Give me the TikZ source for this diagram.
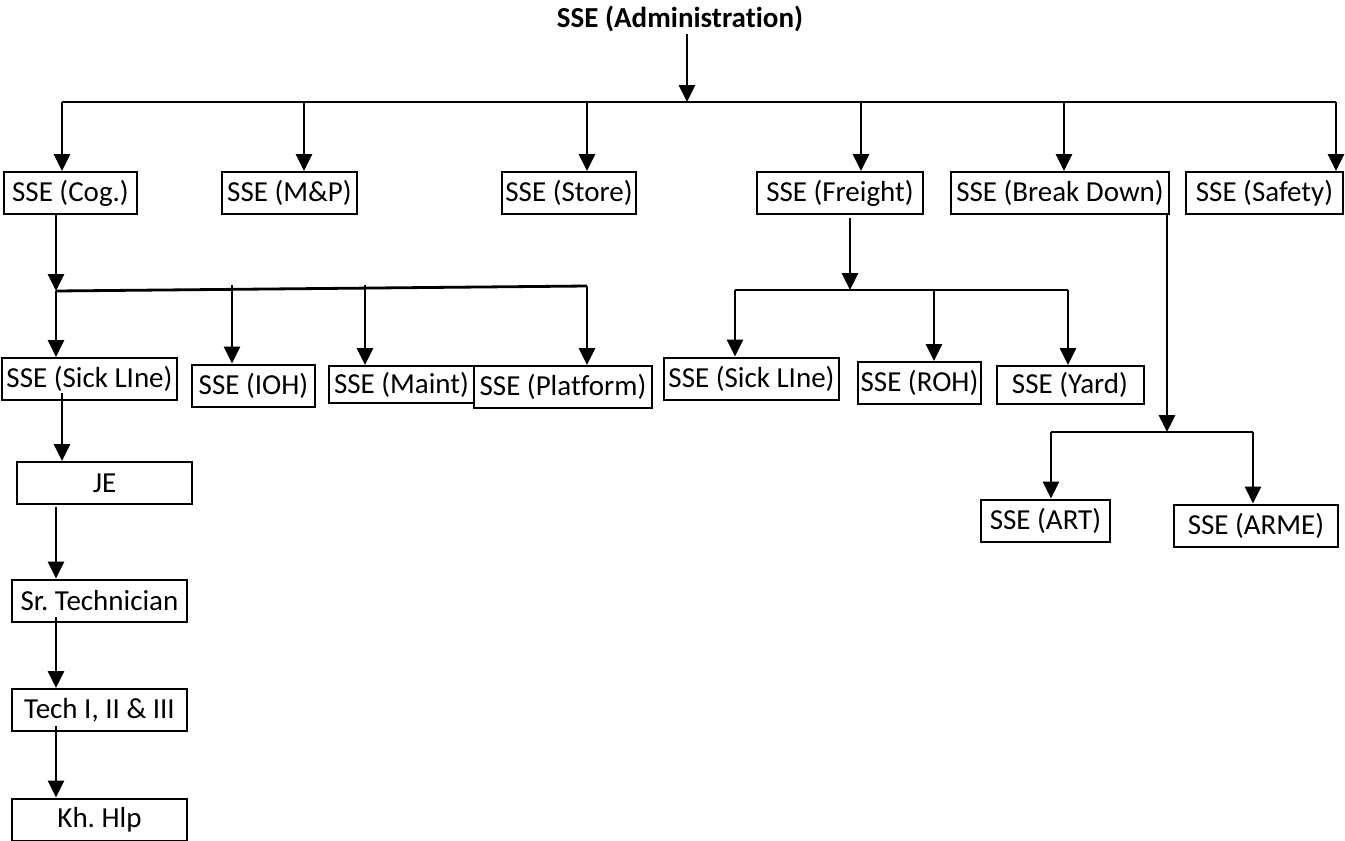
\documentclass[tikz,border=0pt]{standalone}
\usepackage{fontspec}
\setmainfont{Carlito}[Ligatures=NoCommon]
\usetikzlibrary{arrows.meta}

\tikzset{
  post/.style={draw, line width=1pt, inner sep=0pt, minimum height=21pt,
    minimum width=#1*0.5pt, font=\fontsize{14.5}{16}\selectfont},
  arr/.style={-{Triangle[width=8pt,length=8.5pt]}, line width=1.4pt},
  bus/.style={line width=1.4pt}
}

\begin{document}
\frenchspacing
\begin{tikzpicture}[x=0.5pt, y=-0.5pt]
\useasboundingbox (0,0) rectangle (1345,841);

\node[font=\fontsize{14.5}{16}\selectfont\bfseries, inner sep=1pt] (admin) at (680,19) {SSE (Administration)};

\node[post=133] (cog) at (70.5,193) {SSE (Cog.)};
\node[post=135] (mp) at (289.5,193) {SSE (M\&P)};
\node[post=134] (store) at (569,193) {SSE (Store)};
\node[post=166] (freight) at (840,193) {SSE (Freight)};
\node[post=218] (brk) at (1060,193) {SSE (Break Down)};
\node[post=157] (safety) at (1264.5,193) {SSE (Safety)};

\node[post=175] (sickA) at (89.5,379) {SSE (Sick LIne)};
\node[post=123] (ioh) at (253.5,385.5) {SSE (IOH)};
\node[post=145, minimum height=18.5pt] (maint) at (401.5,384.5) {SSE (Maint)};
\node[post=178] (platform) at (563,387) {SSE (Platform)};

\node[post=175] (je) at (104.5,483) {JE};
\node[post=175] (srtech) at (99.5,600.5) {Sr. Technician};
\node[post=175] (tech) at (99.5,710) {Tech I, II \& III};
\node[post=175] (khhlp) at (99.5,819.5) {Kh. Hlp};

\node[post=175] (sickB) at (751.5,378.5) {SSE (Sick LIne)};
\node[post=123] (roh) at (919.5,383) {SSE (ROH)};
\node[post=147, minimum height=19pt] (yard) at (1070,385) {SSE (Yard)};

\node[post=129] (art) at (1045.5,520.5) {SSE (ART)};
\node[post=164] (arme) at (1256,525.5) {SSE (ARME)};

% top level
\coordinate (hub) at (687,102);
\coordinate (t1) at (62,102);
\coordinate (t2) at (304,102);
\coordinate (t3) at (587,102);
\coordinate (t4) at (861,102);
\coordinate (t5) at (1064,102);
\coordinate (t6) at (1336,102);
\draw[arr] (admin.south -| hub) -- (hub);
\draw[bus] (t1) -- (t6);
\draw[arr] (t1) -- (t1 |- cog.north);
\draw[arr] (t2) -- (t2 |- mp.north);
\draw[arr] (t3) -- (t3 |- store.north);
\draw[arr] (t4) -- (t4 |- freight.north);
\draw[arr] (t5) -- (t5 |- brk.north);
\draw[arr] (t6) -- (t6 |- safety.north);

% coaching
\coordinate (c1) at (56,291);
\coordinate (c2) at (232,285);
\coordinate (c3) at (365,285);
\coordinate (c4) at (587,286);
\draw[arr] (c1 |- cog.south) -- (c1);
\draw[bus] (c1) -- (c4);
\draw[arr] (c1) -- (c1 |- sickA.north);
\draw[arr] (c2) -- (c2 |- ioh.north);
\draw[arr] (c3) -- (c3 |- maint.north);
\draw[arr] (c4) -- (c4 |- platform.north);

\coordinate (s1) at (62,393);
\coordinate (s2) at (56,507);
\coordinate (s3) at (56,617);
\coordinate (s4) at (56,726);
\draw[arr] (s1) -- (s1 |- je.north);
\draw[arr] (s2) -- (s2 |- srtech.north);
\draw[arr] (s3) -- (s3 |- tech.north);
\draw[arr] (s4) -- (s4 |- khhlp.north);

% freight
\coordinate (f0) at (850,218);
\coordinate (f1) at (850,290);
\coordinate (f2) at (735,290);
\coordinate (f3) at (934,290);
\coordinate (f4) at (1068,290);
\draw[arr] (f0) -- (f1);
\draw[bus] (f2) -- (f4);
\draw[arr] (f2) -- (f2 |- sickB.north);
\draw[arr] (f3) -- (f3 |- roh.north);
\draw[arr] (f4) -- (f4 |- yard.north);

% break down
\coordinate (d1) at (1167,432);
\coordinate (d2) at (1051,432);
\coordinate (d3) at (1253,432);
\draw[arr] (d1 |- brk.south) -- (d1);
\draw[bus] (d2) -- (d3);
\draw[arr] (d2) -- (d2 |- art.north);
\draw[arr] (d3) -- (d3 |- arme.north);

\end{tikzpicture}
\end{document}
